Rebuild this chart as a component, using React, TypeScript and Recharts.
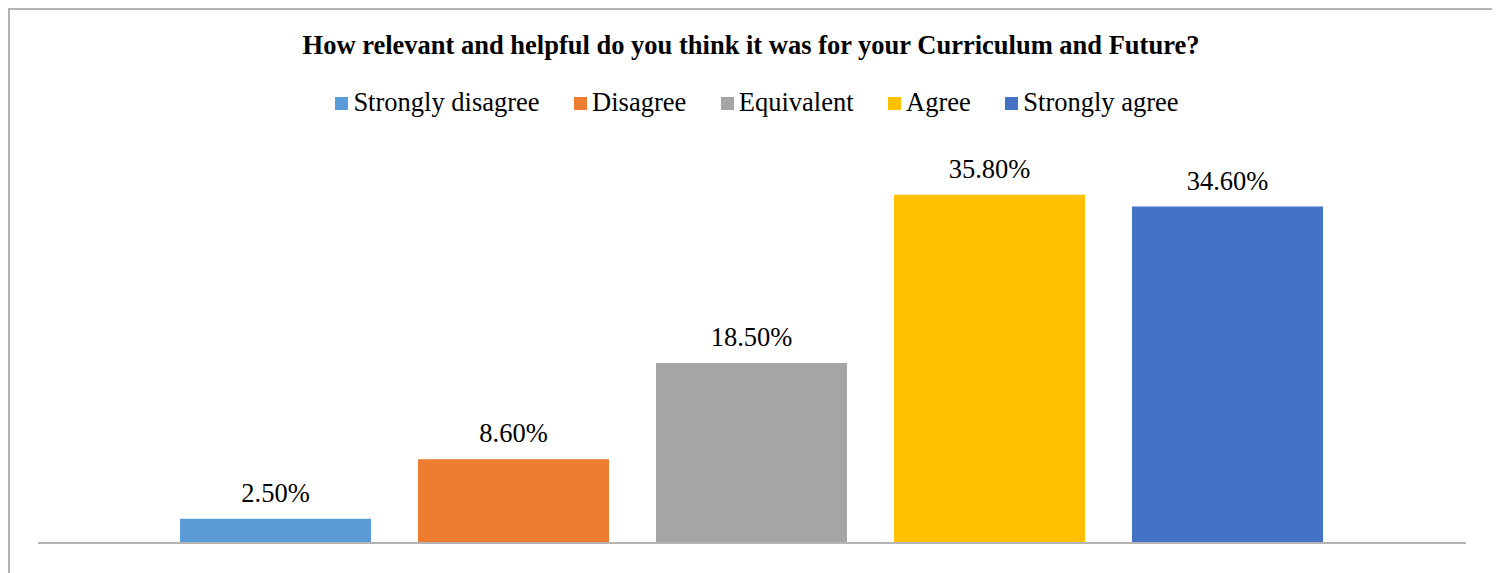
import React from "react";
import { BarChart, Bar, XAxis, YAxis, ReferenceLine, LabelList } from "recharts";

const title = "How relevant and helpful do you think it was for your Curriculum and Future?";
const seriesNames = ["Strongly disagree", "Disagree", "Equivalent", "Agree", "Strongly agree"];
const seriesKeys = ["sd", "d", "e", "a", "sa"];
const seriesValues = [2.5, 8.6, 18.5, 35.8, 34.6];
const seriesColors = ["#5B9BD5", "#ED7D31", "#A5A5A5", "#FFC000", "#4472C4"];

const data = [
  seriesKeys.reduce((row: any, k, i) => {
    row[k] = seriesValues[i];
    return row;
  }, { name: "" } as any),
];

const font = '"Liberation Serif", "Times New Roman", serif';

export default function App() {
  return (
    <div
      style={{
        position: "relative",
        width: 1484,
        height: 600,
        border: "2px solid #b4b4b4",
        borderBottom: "none",
        background: "#fff",
        fontFamily: font,
      }}
    >
      <svg width={1484} height={70} style={{ position: "absolute", top: 0, left: 0 }}>
        <text
          x={741}
          y={44}
          textAnchor="middle"
          style={{ fontFamily: font, fontSize: 26.5, fontWeight: "bold", fill: "#000" }}
        >
          {title}
        </text>
      </svg>
      <div
        style={{
          position: "absolute",
          top: 77,
          left: 0,
          width: 1474,
          paddingLeft: 10,
          textAlign: "center",
          fontSize: 26.5,
          lineHeight: "30px",
          color: "#000",
          whiteSpace: "nowrap",
        }}
      >
        {seriesNames.map((n, i) => (
          <span key={n} style={{ display: "inline-block", marginRight: i < seriesNames.length - 1 ? 34.5 : 0 }}>
            <span
              style={{
                display: "inline-block",
                width: 13,
                height: 13,
                background: seriesColors[i],
                marginRight: 5,
                marginBottom: 1,
                verticalAlign: "baseline",
              }}
            />
            {n}
          </span>
        ))}
      </div>
      <BarChart
        width={1484}
        height={563}
        data={data}
        margin={{ top: 144, right: 28, bottom: 30, left: 28 }}
        barCategoryGap={142}
        barGap={47}
      >
        <XAxis dataKey="name" hide />
        <YAxis hide domain={[0, 40]} />
        {seriesKeys.map((k, i) => (
          <Bar key={k} dataKey={k} name={seriesNames[i]} fill={seriesColors[i]} isAnimationActive={false}>
            <LabelList
              dataKey={k}
              position="top"
              offset={17}
              formatter={(v: any) => `${Number(v).toFixed(2)}%`}
              style={{ fontFamily: font, fontSize: 26.5, fill: "#000" }}
            />
          </Bar>
        ))}
        <ReferenceLine y={0} stroke="#b4b4b4" strokeWidth={2} />
      </BarChart>
    </div>
  );
}
